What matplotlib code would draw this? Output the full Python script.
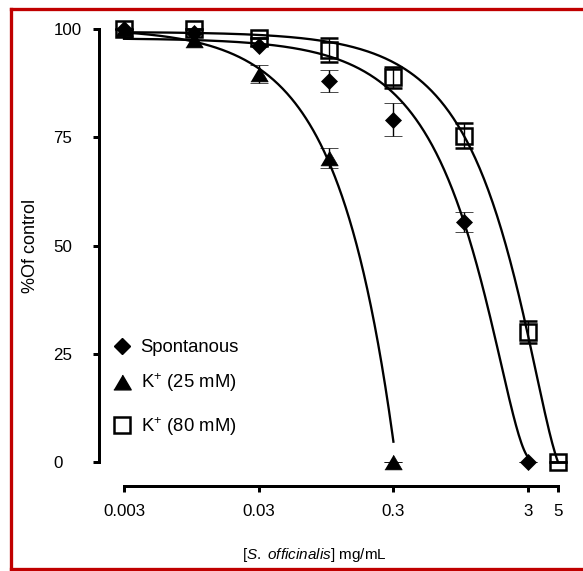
import numpy as np
import matplotlib
matplotlib.use("Agg")
import matplotlib.pyplot as plt
from matplotlib.lines import Line2D

plt.rcParams['font.family'] = ['Liberation Sans', 'DejaVu Sans']
plt.rcParams['mathtext.fontset'] = 'custom'
plt.rcParams['mathtext.rm'] = 'Liberation Sans'
plt.rcParams['mathtext.it'] = 'Liberation Sans:italic'

# ---------------- data ----------------
conc = [0.003, 0.01, 0.03, 0.1, 0.3, 1, 3, 5]

spont_x = conc[:7]
spont_y = [100, 99, 96, 88, 79, 55.5, 0]
spont_err = [0, 0, 0, 2.5, 3.8, 2.3, 0]

k25_x = conc[:5]
k25_y = [100, 97.5, 89.6, 70.2, 0]
k25_err = [0, 0, 2.0, 2.4, 0]

k80_x = conc
k80_y = [100, 100, 98, 95.1, 88.8, 75.4, 30.0, 0]
k80_err = [0, 0, 0, 2.8, 2.4, 2.8, 2.6, 0]

# fitted trend-curve coefficients (polynomial in x, highest power first)
spont_fit = [1.943, -2.725, -41.57, 97.86]
k25_fit = [-41.0, -305.8, 100.12]
k80_fit = [0.3735, -1.227, -23.07, 99.32]

xticks = [0.003, 0.03, 0.3, 3, 5]
xticklabels = ['0.003', '0.03', '0.3', '3', '5']
yticks = [0, 25, 50, 75, 100]
yticklabels = ['0', '25', '50', '75', '100']

legend_labels = ['Spontanous', 'K$^{+}$ (25 mM)', 'K$^{+}$ (80 mM)']

# ---------------- figure ----------------
W, H = 583, 571
fig = plt.figure(figsize=(W / 100, H / 100), dpi=100)
ax = fig.add_axes([124 / W, (H - 462) / H, 434 / W, 433 / H])
ax.set_xscale('log')
ax.set_xlim(0.003, 5)
ax.set_ylim(0, 100)

px = 72 / 100  # points per pixel
lw_curve = 2.3 * px

tri = [(-1, -0.85), (1, -0.85), (0, 0.85)]

def curve(coefs, xmin, xmax):
    xs = np.logspace(np.log10(xmin), np.log10(xmax), 300)
    ax.plot(xs, np.polyval(coefs, xs), color='black', lw=lw_curve,
            clip_on=False, zorder=2)

curve(spont_fit, spont_x[0], spont_x[-1])
curve(k25_fit, k25_x[0], k25_x[-1])
curve(k80_fit, k80_x[0], k80_x[-1])

eb_kw = dict(ecolor='black', elinewidth=1.0, capsize=6.4, capthick=1.0,
             linestyle='none', clip_on=False)

e1 = ax.errorbar(k80_x, k80_y, yerr=k80_err, marker='s', ms=11.5,
                 mfc='none', mec='black', mew=1.8, zorder=3, **eb_kw)
e2 = ax.errorbar(spont_x, spont_y, yerr=spont_err, marker='D', ms=8,
                 mfc='black', mec='black', mew=0.5, zorder=4, **eb_kw)
e3 = ax.errorbar(k25_x, k25_y, yerr=k25_err, marker=tri, ms=12.5,
                 mfc='black', mec='black', mew=0.5, zorder=4, **eb_kw)
for e in (e1, e2, e3):
    for art in e.get_children():
        art.set_clip_on(False)

# spines
for s in ('top', 'right'):
    ax.spines[s].set_visible(False)
ax.spines['left'].set_position(('outward', 25 * px))
ax.spines['bottom'].set_position(('outward', 24 * px))
for s in ('left', 'bottom'):
    ax.spines[s].set_linewidth(3 * px)

ax.set_xticks(xticks)
ax.set_xticklabels(xticklabels)
ax.xaxis.set_minor_locator(matplotlib.ticker.NullLocator())
ax.set_yticks(yticks)
ax.set_yticklabels(yticklabels)

ax.tick_params(axis='both', which='major', width=3 * px, length=6 * px,
               direction='out', labelsize=12.2, color='black')
ax.tick_params(axis='x', pad=9.0)
ax.tick_params(axis='y', pad=28.6)
plt.setp(ax.get_yticklabels(), ha='left')

ax.set_ylabel('%Of control', fontsize=13)
ax.yaxis.set_label_coords(-0.196, 0.5)
ax.set_xlabel(r'[$\mathit{S.\ officinalis}$] mg/mL', fontsize=11)
ax.xaxis.set_label_coords(0.438, -0.194)

# legend (manual keys)
leg_mark_y = [(462 - 346) / 433, (462 - 382) / 433, (462 - 425) / 433]
leg_text_y = [(462 - 352.3) / 433, (462 - 388.3) / 433, (462 - 431.7) / 433]
mk_x = (121.7 - 124) / 434
tx_x = (140.7 - 124) / 434
ax.plot([mk_x], [leg_mark_y[0]], marker='D', ms=8, color='black',
        transform=ax.transAxes, clip_on=False, linestyle='none')
ax.plot([mk_x], [leg_mark_y[1]], marker=tri, ms=12.5, color='black',
        transform=ax.transAxes, clip_on=False, linestyle='none')
ax.plot([mk_x], [leg_mark_y[2]], marker='s', ms=12, mfc='none', mec='black',
        mew=1.8, transform=ax.transAxes, clip_on=False, linestyle='none')
for lab, ty in zip(legend_labels, leg_text_y):
    ax.text(tx_x, ty, lab, transform=ax.transAxes, fontsize=13.3,
            va='baseline', ha='left')

# red frame (top, left, bottom; the right edge lies outside the image)
red = '#C00000'
xl, xr = 10.7 / W, 1.02
yt, yb = (H - 9) / H, (H - 568.5) / H
for xs_, ys_ in (([xl, xr], [yt, yt]), ([xl, xl], [yb, yt]),
                 ([xl, xr], [yb, yb])):
    fig.add_artist(Line2D(xs_, ys_, transform=fig.transFigure, color=red,
                          lw=3.3 * px, solid_capstyle='projecting'))

fig.savefig('out.png', dpi=100)
